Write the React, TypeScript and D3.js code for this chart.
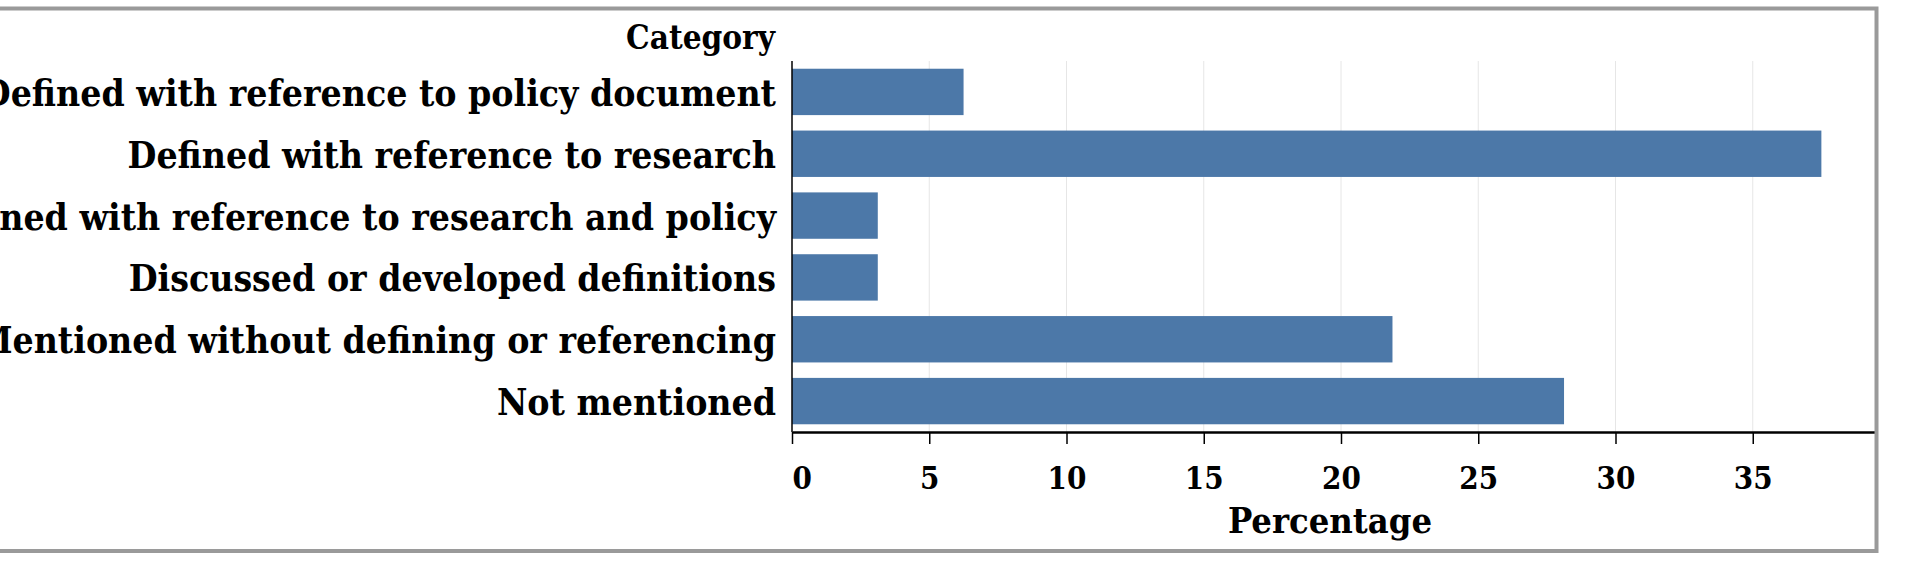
import React, { useRef, useEffect } from 'react';
import * as d3 from 'd3';

const categories = [
  'Defined with reference to policy document',
  'Defined with reference to research',
  'Defined with reference to research and policy',
  'Discussed or developed definitions',
  'Mentioned without defining or referencing',
  'Not mentioned',
];

const percentages = [6.25, 37.5, 3.125, 3.125, 21.875, 28.125];

const xTicks = [0, 5, 10, 15, 20, 25, 30, 35];

const App: React.FC = () => {
  const svgRef = useRef<SVGSVGElement>(null);
  const width = 1910;
  const height = 582;
  const font = "'DejaVu Serif Condensed', 'DejaVu Serif', serif";
  const barColor = '#4c78a8';

  useEffect(() => {
    if (!svgRef.current) return;
    const svg = d3.select(svgRef.current);
    svg.selectAll('*').remove();

    const left = 792;
    const top = 61;
    const bottom = 432;

    const x = d3.scaleLinear().domain([0, 40]).range([left, 1890]);
    const y = d3.scaleBand<string>()
      .domain(categories)
      .range([top, bottom])
      .paddingInner(0.25)
      .paddingOuter(0.125);

    svg.append('rect')
      .attr('width', width)
      .attr('height', height)
      .attr('fill', '#fff');

    svg.append('defs')
      .append('clipPath')
      .attr('id', 'frame-clip')
      .append('rect')
      .attr('x', -30)
      .attr('y', 8.5)
      .attr('width', 1876.5 + 30)
      .attr('height', 551 - 8.5);

    const g = svg.append('g').attr('clip-path', 'url(#frame-clip)');

    // grid
    g.append('g')
      .selectAll('line')
      .data(xTicks.slice(1))
      .join('line')
      .attr('x1', d => x(d))
      .attr('x2', d => x(d))
      .attr('y1', top)
      .attr('y2', bottom)
      .attr('stroke', '#e6e6e6')
      .attr('stroke-width', 1);

    // bars
    g.append('g')
      .selectAll('rect')
      .data(categories)
      .join('rect')
      .attr('x', x(0))
      .attr('y', d => y(d)!)
      .attr('width', (d, i) => x(percentages[i]) - x(0))
      .attr('height', y.bandwidth())
      .attr('fill', barColor);

    // x axis
    const xAxis = g.append('g')
      .attr('transform', `translate(0,${bottom})`)
      .call(d3.axisBottom(x).tickValues(xTicks).tickSize(12).tickSizeOuter(0).tickPadding(23).tickFormat(d => `${d}`));
    xAxis.select('.domain').attr('stroke', '#000').attr('stroke-width', 2.5);
    xAxis.selectAll('.tick line').attr('stroke', '#000').attr('stroke-width', 1.5);
    xAxis.selectAll('.tick text')
      .attr('fill', '#000')
      .attr('font-family', font)
      .attr('font-stretch', 'condensed')
      .attr('font-weight', 'bold')
      .attr('font-size', 31)
      .attr('dy', '0.71em');
    xAxis.selectAll('.tick text').filter(d => d === 0).attr('text-anchor', 'start').attr('x', 0);

    // y axis line
    g.append('line')
      .attr('x1', left)
      .attr('x2', left)
      .attr('y1', top)
      .attr('y2', bottom)
      .attr('stroke', '#000')
      .attr('stroke-width', 1.5);

    // category labels
    g.append('g')
      .selectAll('text')
      .data(categories)
      .join('text')
      .attr('x', left - 16)
      .attr('y', d => y(d)! + y.bandwidth() / 2 + 14)
      .attr('text-anchor', 'end')
      .attr('font-family', font)
      .attr('font-stretch', 'condensed')
      .attr('font-weight', 'bold')
      .attr('font-size', 37)
      .attr('fill', '#000')
      .text(d => d);

    // titles
    g.append('text')
      .attr('x', left - 17)
      .attr('y', 49)
      .attr('text-anchor', 'end')
      .attr('font-family', font)
      .attr('font-stretch', 'condensed')
      .attr('font-weight', 'bold')
      .attr('font-size', 33)
      .attr('fill', '#000')
      .text('Category');

    g.append('text')
      .attr('x', 1330)
      .attr('y', 533)
      .attr('text-anchor', 'middle')
      .attr('font-family', font)
      .attr('font-stretch', 'condensed')
      .attr('font-weight', 'bold')
      .attr('font-size', 36)
      .attr('fill', '#000')
      .text('Percentage');

    // frame
    svg.append('rect')
      .attr('x', -30)
      .attr('y', 8.5)
      .attr('width', 1876.5 + 30)
      .attr('height', 551 - 8.5)
      .attr('fill', 'none')
      .attr('stroke', '#9a9a9a')
      .attr('stroke-width', 4);
  }, []);

  return (
    <div style={{ position: 'fixed', left: 0, top: 0 }}>
      <svg ref={svgRef} width={width} height={height} style={{ display: 'block' }} />
    </div>
  );
};

export default App;
